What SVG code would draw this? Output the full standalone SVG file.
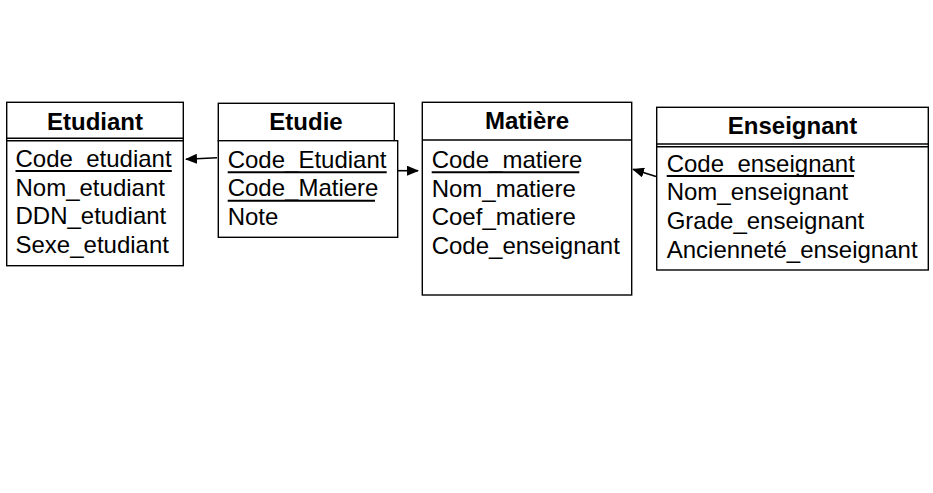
<svg xmlns="http://www.w3.org/2000/svg" width="933" height="493" viewBox="0 0 933 493">
<style>
.box{fill:#fff;stroke:#000;stroke-width:1.4}
.sep{stroke:#000;stroke-width:1.4}
.ul{stroke:#000;stroke-width:2}
.title{font-family:"Liberation Sans",Arial,sans-serif;font-size:24px;font-weight:bold;text-anchor:middle;fill:#000}
.attr{font-family:"Liberation Sans",Arial,sans-serif;font-size:24px;fill:#000}
.conn{stroke:#000;stroke-width:1.6;fill:none}
</style>
<defs>
<marker id="arr" viewBox="0 0 12 10" refX="11" refY="5" markerWidth="12" markerHeight="10" markerUnits="userSpaceOnUse" orient="auto">
<path d="M0,0 L12,5 L0,10 Z" fill="#000"/>
</marker>
</defs>
<rect width="933" height="493" fill="#fff"/>

<g id="etudiant">
<rect class="box" x="6.7" y="102.3" width="176.6" height="163.4"/>
<line class="sep" x1="6.7" y1="138.3" x2="183.3" y2="138.3"/>
<line class="sep" x1="6.7" y1="140.8" x2="183.3" y2="140.8"/>
<text class="title" x="95" y="130">Etudiant</text>
<text class="attr" x="15.5" y="167">Code_etudiant</text>
<line class="ul" x1="15.5" y1="171" x2="171.8" y2="171"/>
<text class="attr" x="15.5" y="195.5">Nom_etudiant</text>
<text class="attr" x="15.5" y="224">DDN_etudiant</text>
<text class="attr" x="15.5" y="252.5">Sexe_etudiant</text>
</g>

<g id="etudie">
<rect class="box" x="218.3" y="103.3" width="176" height="37.4"/>
<rect class="box" x="218.3" y="140.7" width="179.4" height="96.6"/>
<text class="title" x="306" y="130">Etudie</text>
<text class="attr" x="227.7" y="167.5">Code_Etudiant</text>
<line class="ul" x1="227.7" y1="172.3" x2="386.7" y2="172.3"/>
<text class="attr" x="227.7" y="196">Code_Matiere</text>
<line class="ul" x1="227.7" y1="200.7" x2="375" y2="200.7"/>
<text class="attr" x="227.7" y="224.5">Note</text>
</g>

<g id="matiere">
<rect class="box" x="422.3" y="102.3" width="209.4" height="192.7"/>
<line class="sep" x1="422.3" y1="140" x2="631.7" y2="140"/>
<text class="title" x="527" y="129.3">Matière</text>
<text class="attr" x="431.7" y="167.5">Code_matiere</text>
<line class="ul" x1="431.7" y1="172.3" x2="579.3" y2="172.3"/>
<text class="attr" x="431.7" y="196.5">Nom_matiere</text>
<text class="attr" x="431.7" y="225">Coef_matiere</text>
<text class="attr" x="431.7" y="254">Code_enseignant</text>
</g>

<g id="enseignant">
<rect class="box" x="656.7" y="107.3" width="271.6" height="162.7"/>
<line class="sep" x1="656.7" y1="144" x2="928.3" y2="144"/>
<line class="sep" x1="656.7" y1="146.7" x2="928.3" y2="146.7"/>
<text class="title" x="792.5" y="134.3">Enseignant</text>
<text class="attr" x="666.7" y="171.7">Code_enseignant</text>
<line class="ul" x1="666.7" y1="176" x2="854" y2="176"/>
<text class="attr" x="666.7" y="200.3">Nom_enseignant</text>
<text class="attr" x="666.7" y="229">Grade_enseignant</text>
<text class="attr" x="666.7" y="257.7">Ancienneté_enseignant</text>
</g>

<g id="connectors">
<line class="conn" x1="217" y1="157.7" x2="186" y2="159.3" marker-end="url(#arr)"/>
<line class="conn" x1="398" y1="170.7" x2="418" y2="170.7" marker-end="url(#arr)"/>
<line class="conn" x1="656" y1="176.5" x2="633" y2="169.3" marker-end="url(#arr)"/>
</g>
</svg>
